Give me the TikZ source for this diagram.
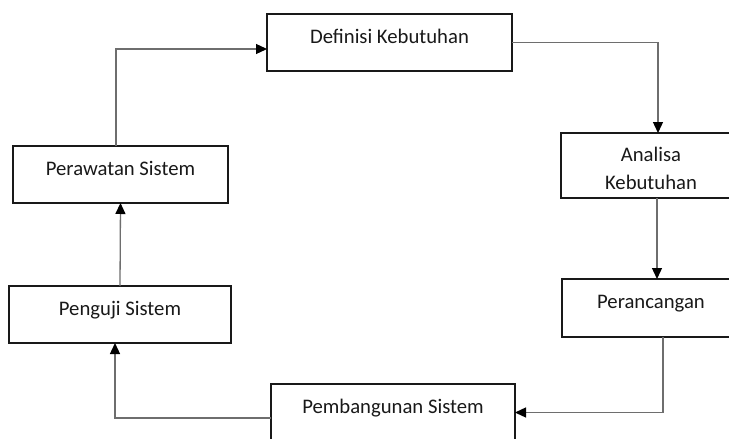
\documentclass[tikz,border=0pt]{standalone}
\usepackage{fontspec}
\setmainfont{Carlito}
\usetikzlibrary{arrows.meta,calc}
\definecolor{conn}{HTML}{6E6E6E}
\begin{document}
\begin{tikzpicture}[x=1pt,y=-1pt,
  box/.style={draw=black!90,line width=1.8pt,anchor=north west,inner sep=0pt,outer sep=0pt},
  lbl/.style={anchor=base,inner sep=0pt,font=\fontsize{20.7}{28}\selectfont,text=black!90,align=center},
  conn/.style={draw=conn,line width=1.3pt,-{Triangle[length=11pt,width=10pt,color=black]}}]
\useasboundingbox (0,0) rectangle (729,439);
\clip (0,0) rectangle (729,439);
\fill[white] (0,0) rectangle (729,439);
% boxes
\node[box,minimum width=245pt,minimum height=57pt] (def) at (267,14) {};
\node[box,minimum width=180pt,minimum height=65pt] (ana) at (561,133) {};
\node[box,minimum width=178pt,minimum height=58pt] (per) at (562,279) {};
\node[box,minimum width=244pt,minimum height=57pt] (pem) at (271,384) {};
\node[box,minimum width=222pt,minimum height=57pt] (pen) at (9,286) {};
\node[box,minimum width=215pt,minimum height=57pt] (paw) at (13,146) {};
% labels
\node[lbl] (tdef) at ($(def.north)+(0,29)$) {Definisi Kebutuhan};
\node[lbl] (tana) at ($(ana.north)+(0,56)$) {Analisa\\Kebutuhan};
\node[lbl] (tper) at ($(per.north)+(0,29)$) {Perancangan};
\node[lbl] (tpem) at ($(pem.north)+(0,29)$) {Pembangunan Sistem};
\node[lbl] (tpen) at ($(pen.north)+(0,29)$) {Penguji Sistem};
\node[lbl] (tpaw) at ($(paw.north)+(0,29)$) {Perawatan Sistem};
% connector coordinates
\coordinate (c1) at ($(ana.north west)+(97,0)$);
\coordinate (c2) at ($(ana.south west)+(96,0)$);
\coordinate (c3) at ($(per.south west)+(101,0)$);
\coordinate (c4) at ($(pem.north west)+(0,34)$);
\coordinate (c5) at ($(pen.south west)+(106,0)$);
\coordinate (c6) at ($(paw.north west)+(103,0)$);
\coordinate (c7) at ($(def.north west)+(0,35)$);
% connectors
\draw[conn] (def.east) -| (c1);
\draw[conn] (c2) -- (c2 |- per.north);
\draw[conn] (c3) |- (pem.east);
\draw[conn] (c4) -| (c5);
\draw[conn] (pen.north) -- (paw.south);
\draw[conn] (c6) |- (c7);
\end{tikzpicture}
\end{document}
